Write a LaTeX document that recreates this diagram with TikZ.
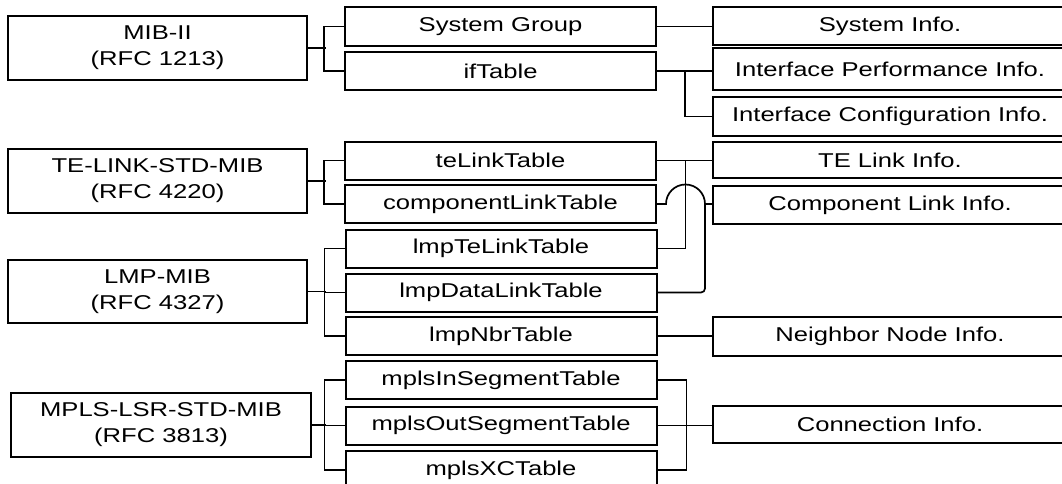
\documentclass[tikz,border=0pt]{standalone}
\usepackage{fontspec}
\setmainfont[FakeStretch=1.28]{Liberation Sans}
\begin{document}
\begin{tikzpicture}[x=1pt,y=-1pt,
  every node/.style={font=\fontsize{20}{26}\selectfont},
  bx/.style={draw=black,line width=2pt,inner sep=0pt,minimum width=#1,align=center},
  lbox/.style={bx=299pt,minimum height=64pt},
  mbox/.style={bx=311pt,minimum height=38pt},
  rbox/.style={bx=354pt,minimum height=38pt},
  wire/.style={draw=black,line width=1.7pt}]
\useasboundingbox (0,0) rectangle (1062,484);
\clip (0,0) rectangle (1062,484);
\fill[white] (0,0) rectangle (1062,484);
% left
\node[lbox] (mib) at (157.5,48) {MIB-II\\(RFC 1213)};
\node[lbox] (te) at (157.5,181) {TE-LINK-STD-MIB\\(RFC 4220)};
\node[lbox,minimum height=63pt] (lmp) at (157.5,291.5) {LMP-MIB\\(RFC 4327)};
\node[lbox,minimum width=300pt] (mpls) at (161,425) {MPLS-LSR-STD-MIB\\(RFC 3813)};
% middle
\node[mbox,minimum height=39pt] (sys) at (500.5,26.5) {System Group};
\node[mbox] (if) at (500.5,71) {ifTable};
\node[mbox] (tel) at (500.5,160.5) {teLinkTable};
\node[mbox] (cl) at (500.5,204) {componentLinkTable};
\node[mbox] (lte) at (501,248.5) {lmpTeLinkTable};
\node[mbox] (ldl) at (501,292.5) {lmpDataLinkTable};
\node[mbox] (lnb) at (501,336) {lmpNbrTable};
\node[mbox] (min) at (501,380) {mplsInSegmentTable};
\node[mbox] (mout) at (501,425.5) {mplsOutSegmentTable};
\node[mbox] (mxc) at (501,470) {mplsXCTable};
% right
\node[rbox] (sysi) at (890,26) {System Info.};
\node[rbox,minimum height=42pt] (ipi) at (890,69) {Interface Performance Info.};
\node[rbox,minimum height=39pt] (ici) at (890,116.5) {Interface Configuration Info.};
\node[rbox,minimum height=36pt] (teli) at (890,160) {TE Link Info.};
\node[rbox] (cli) at (890,205) {Component Link Info.};
\node[rbox,minimum height=39pt] (nni) at (890,336.5) {Neighbor Node Info.};
\node[rbox,minimum height=37pt] (coni) at (890,424.5) {Connection Info.};
% left brackets
\draw[wire] (mib.east) -- ++(18,0);
\draw[wire] (sys.west) -- ++(-20,0) |- (if.west);
\draw[wire] (te.east) -- ++(18,0);
\draw[wire] (tel.west) -- ++(-20,0) |- (cl.west);
\draw[wire] (lmp.east) -- ++(18,0);
\draw[wire] (lte.west) -- ++(-20,0) |- (lnb.west);
\draw[wire] (ldl.west) -- ++(-20,0);
\draw[wire] (mpls.east) -- ++(14,0);
\draw[wire] (min.west) -- ++(-20,0) |- (mxc.west);
\draw[wire] (mout.west) -- ++(-20,0);
% right connectors
\draw[wire] (sys.east) -- (sys.east -| sysi.west);
\draw[wire] (if.east) -- (if.east -| ipi.west);
\draw[wire] (if.east) -- ++(28,0) |- (ici.west);
\draw[wire] (tel.east) -- (tel.east -| teli.west);
\draw[wire] (lte.east) -- ++(28,0) coordinate (j1) -- (j1 |- tel.east);
\draw[wire] (cl.east) -- ++(9,0) arc[start angle=180,end angle=360,radius=19.5] coordinate (j2);
\draw[wire,rounded corners=4pt] (j2) -- (j2 |- ldl.east) -- (ldl.east);
\draw[wire] (j2) -- (j2 -| cli.west);
\draw[wire] (lnb.east) -- (lnb.east -| nni.west);
\draw[wire] (min.east) -- ++(29,0) coordinate (j3) -- (j3 |- mxc.east) -- (mxc.east);
\draw[wire] (mout.east) -- (mout.east -| coni.west);
\end{tikzpicture}
\end{document}
